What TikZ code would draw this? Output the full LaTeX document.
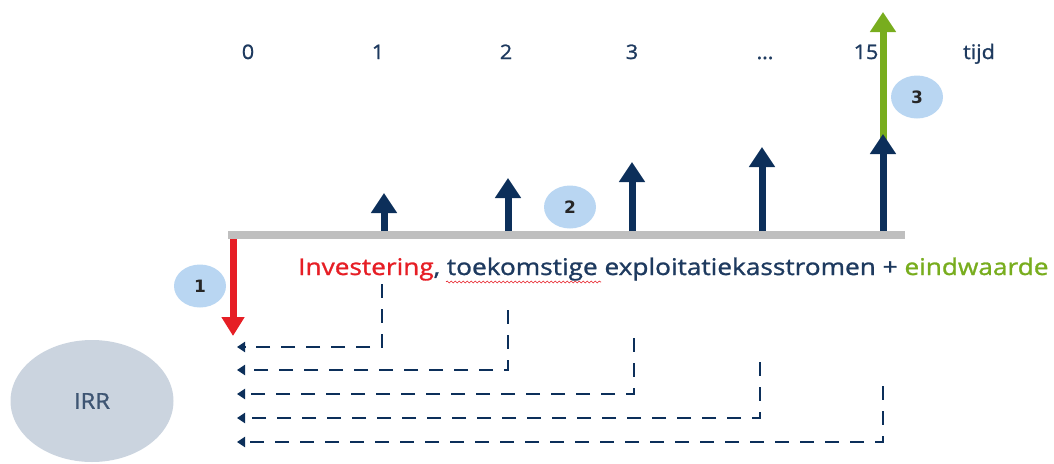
\documentclass[tikz,border=0pt]{standalone}
\usepackage{fontspec}
\setmainfont{Open Sans}
\newfontfamily\bubblefont{DejaVu Sans}
\newfontfamily\labelfont[FakeBold=1.2,FakeStretch=1.08]{Open Sans}
\newfontfamily\capfont[FakeBold=1.2,FakeStretch=1.14]{Open Sans}
\usetikzlibrary{arrows.meta,shapes.geometric,decorations.pathmorphing}
\definecolor{navy}{HTML}{0C2F5A}
\definecolor{inktext}{HTML}{1E3A5F}
\definecolor{axisgrey}{HTML}{BFBFBF}
\definecolor{invred}{HTML}{E61E25}
\definecolor{endgreen}{HTML}{78AD1E}
\definecolor{bubble}{HTML}{B9D6F2}
\definecolor{irrfill}{HTML}{CBD4DF}
\definecolor{irrtext}{HTML}{3E5573}
\begin{document}
\begin{tikzpicture}[x=1pt,y=-1pt,
  tick/.style={text=inktext,font=\labelfont\fontsize{20}{24}\selectfont,anchor=base,inner sep=0pt},
  flow/.style={line width=7pt,-{Triangle[width=25pt,length=20pt]}},
  bubblenode/.style={ellipse,fill=bubble,minimum width=52pt,minimum height=43pt,inner sep=0pt,
    text=black!85,font=\bubblefont\bfseries\fontsize{17}{19}\selectfont},
  discount/.style={navy,line width=2.8pt,dash pattern=on 14pt off 11pt,
    -{Triangle[width=10pt,length=8pt]}}]
\useasboundingbox (0,0) rectangle (1054,463);

% period labels
\node[tick] (t0) at (248,59) {0};
\node[tick] (t1) at (378,59) {1};
\node[tick] (t2) at (506,59) {2};
\node[tick] (t3) at (632,59) {3};
\node[tick] (tdots) at (765,59) {\dots};
\node[tick] (t15) at (866,59) {15};
\node[tick] (ttijd) at (979,59) {tijd};

% time axis
\draw[axisgrey,line width=8pt] (228,235) -- (905,235);

% points on the axis and arrow tips
\coordinate (a0) at (233,239);  \coordinate (p0) at (233,336);
\coordinate (a1) at (384,231);  \coordinate (p1) at (384,193);
\coordinate (a2) at (508,231);  \coordinate (p2) at (508,178);
\coordinate (a3) at (632,231);  \coordinate (p3) at (632,162);
\coordinate (a4) at (762,231);  \coordinate (p4) at (762,147);
\coordinate (a5) at (883,231);  \coordinate (p5) at (883,134);
\coordinate (g0) at (883,150);  \coordinate (g1) at (883,12);

% terminal value
\draw[flow,endgreen] (g0) -- (g1);
% investment
\draw[line width=7pt,invred,-{Triangle[width=22pt,length=19pt]}] (a0) -- (p0);
% yearly cash flows
\foreach \i in {1,...,5} \draw[flow,navy] (a\i) -- (p\i);

% step markers
\node[bubblenode] (s1) at (200,286) {1};
\node[bubblenode] (s2) at (570,207) {2};
\node[bubblenode] (s3) at (917,97) {3};

% caption
\node[anchor=base west,inner sep=0pt,text=inktext,font=\capfont\fontsize{23}{27}\selectfont] (caption) at (298,275)
  {\textcolor{invred}{Investering}, toekomstige exploitatiekasstromen + \textcolor{endgreen}{eindwaarde}};
\coordinate (w0) at (446,282); \coordinate (w1) at (601,282);
\draw[invred,line width=0.6pt,decorate,decoration={snake,amplitude=1pt,segment length=4pt}] (w0) -- (w1);

% discounting back to t = 0
\coordinate (d1) at (382,284); \coordinate (r1) at (237,347);
\coordinate (d2) at (508,310); \coordinate (r2) at (237,370);
\coordinate (d3) at (634,338); \coordinate (r3) at (237,394);
\coordinate (d4) at (760,362); \coordinate (r4) at (237,418);
\coordinate (d5) at (883,386); \coordinate (r5) at (237,442);
\foreach \i in {1,...,5} \draw[discount] (d\i) |- (r\i);

% result
\node[ellipse,fill=irrfill,minimum width=163pt,minimum height=122pt,text=irrtext,
  font=\labelfont\fontsize{22}{26}\selectfont] (irr) at (92,401) {IRR};
\end{tikzpicture}
\end{document}
